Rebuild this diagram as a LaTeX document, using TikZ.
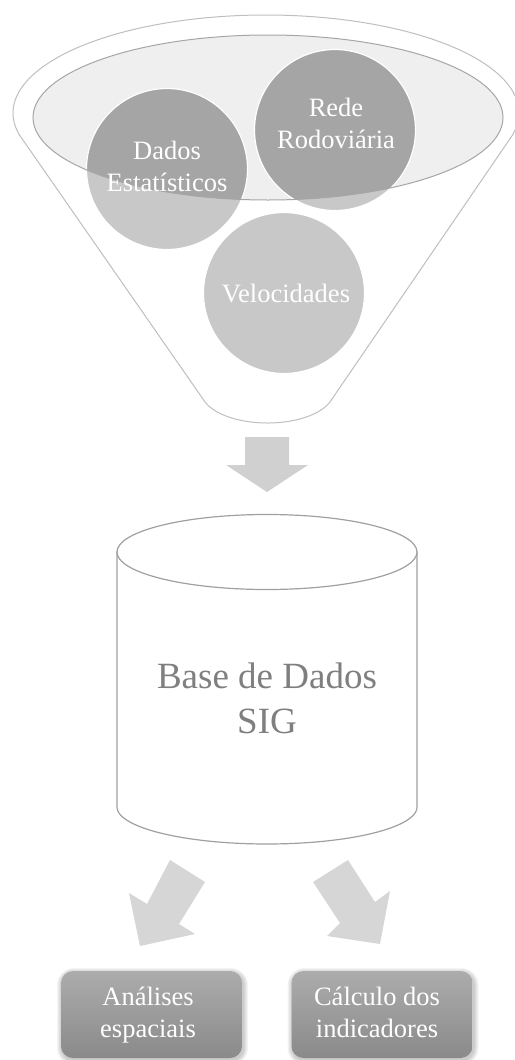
\documentclass[tikz,border=0pt]{standalone}
\usepackage{fontspec}
\setmainfont{Liberation Serif}
\definecolor{funnelline}{HTML}{BFBFBF}
\definecolor{ellfill}{HTML}{EFEFEF}
\definecolor{ellline}{HTML}{A6A6A6}
\definecolor{circlight}{HTML}{C8C8C8}
\definecolor{circdark}{HTML}{A5A5A5}
\definecolor{arrowgray}{HTML}{D0D0D0}
\definecolor{arrowlight}{HTML}{D6D6D6}
\definecolor{cylline}{HTML}{A0A0A0}
\definecolor{cyltext}{HTML}{7F7F7F}
\definecolor{boxtop}{HTML}{ACACAC}
\definecolor{boxbot}{HTML}{8A8A8A}
\begin{document}
\begin{tikzpicture}[x=1pt,y=-1pt,
  bubble/.style={circle, fill=circlight, minimum size=161pt, inner sep=0pt},
  bubbletext/.style={anchor=base, text=white, align=center, inner sep=0pt,
    font=\fontsize{26.5}{32}\selectfont},
  outbox/.style={rounded corners=12pt, top color=boxtop, bottom color=boxbot,
    minimum width=181pt, minimum height=87pt, inner sep=0pt},
  blockarrow/.style={fill=arrowgray, draw=none}
]
\useasboundingbox (0,0) rectangle (514,1060);

% funnel outline
\draw[funnelline, line width=1pt, fill=white]
  plot[domain=193:-13, samples=140] ({266+253*cos(\x)},{113-98*sin(\x)})
  -- plot[domain=-20:-160, samples=70] ({267.5+66.5*cos(\x)},{391-32*sin(\x)})
  -- cycle;

% inner ellipse fill
\fill[ellfill] (268,117.5) ellipse [x radius=235, y radius=82.5];

% bubbles
\node[bubble] (dados) at (167,169) {};
\node[bubble] (rede) at (335,130) {};
\node[bubble] (velo) at (284,293) {};

\begin{scope}
  \clip (268,117.5) ellipse [x radius=235, y radius=82.5];
  \fill[circdark] (dados.center) circle [radius=80.5];
  \fill[circdark] (rede.center) circle [radius=80.5];
  \fill[circdark] (velo.center) circle [radius=80.5];
\end{scope}
\foreach \c in {dados,rede,velo}
  \draw[white, line width=1.2pt] (\c.center) circle [radius=80.5];

\draw[ellline, line width=1pt] (268,117.5) ellipse [x radius=235, y radius=82.5];

\node[bubbletext] (dadosT) at (167,191) {Dados\\Estatísticos};
\node[bubbletext] (redeT) at (336,148) {Rede\\Rodoviária};
\node[bubbletext] (veloT) at (286,302) {Velocidades};

% down arrow
\fill[arrowgray] (245,437) -- (289,437) -- (289,465) -- (308,465) -- (267,492)
  -- (226,465) -- (245,465) -- cycle;

% cylinder
\draw[cylline, line width=1.2pt, fill=white] (117,552) -- (117,807)
  -- plot[domain=180:360, samples=80] ({267+150*cos(\x)},{807-37*sin(\x)})
  -- (417,552) -- cycle;
\draw[cylline, line width=1.2pt, fill=white] (267,552) ellipse [x radius=150, y radius=37.5];
\node[anchor=base, text=cyltext, align=center, inner sep=0pt,
  font=\fontsize{37}{45}\selectfont] (sig) at (267,733) {Base de Dados\\SIG};

% diagonal arrows
\fill[arrowlight] (170,860) -- (205,882) -- (179,924) -- (195,934) -- (140,946)
  -- (129,893) -- (147,904) -- cycle;
\fill[arrowlight] (348,860) -- (313,882) -- (340,923) -- (327,936) -- (380,944)
  -- (390,891) -- (375,902) -- cycle;

% shadows
\foreach \cx in {151.5,382} {
  \foreach \e in {1,2,3,4,5} {
    \fill[black, opacity=0.045, rounded corners=12pt+\e pt]
      ({\cx-90.5-\e+1},{971-\e+2}) rectangle ({\cx+90.5+\e+1},{1058+\e+2});
  }
}

% output boxes
\node[outbox] (analises) at (151.5,1014.5) {};
\node[outbox] (calculo) at (382,1014.5) {};
\node[bubbletext] (analisesT) at (148,1037) {Análises\\espaciais};
\node[bubbletext] (calculoT) at (377,1037) {Cálculo dos\\indicadores};
\end{tikzpicture}
\end{document}
